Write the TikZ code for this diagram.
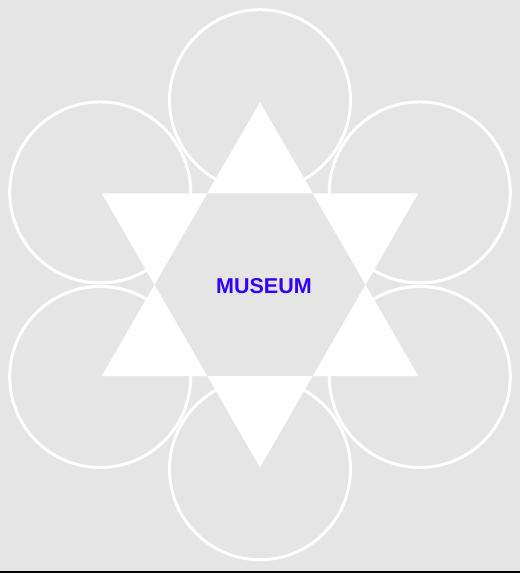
\documentclass[tikz,border=0pt]{standalone}
\usepackage{fontspec}
\usepackage{tikz}
\usepackage{xcolor}
\newfontfamily\labelfont{Liberation Sans}
\definecolor{museum-gray}{RGB}{229,229,229}
\definecolor{museum-blue}{RGB}{51,0,255}

\begin{document}
\begin{tikzpicture}[x=1pt, y=1pt,
	ring/.style={circle, draw=white, line width=3pt, minimum size=181pt, inner sep=0pt}]
	\fill[museum-gray] (-260,-288.3) rectangle (260,284.7);
	\useasboundingbox (-260,-288.3) rectangle (260,284.7);
	\fill[black] (-260,-288.3) rectangle (260,-286);
	\node[ring] (top) at (90:184.5pt) {};
	\node[ring] (upleft) at (150:184.5pt) {};
	\node[ring] (downleft) at (210:184.5pt) {};
	\node[ring] (bottom) at (270:184.5pt) {};
	\node[ring] (downright) at (330:184.5pt) {};
	\node[ring] (upright) at (30:184.5pt) {};
	% star: the centre hexagon stays empty
	\fill[white, even odd rule]
	(90:182.7pt) -- (210:182.7pt) -- (330:182.7pt) -- cycle
	(30:182.7pt) -- (150:182.7pt) -- (270:182.7pt) -- cycle;
	\node[text=museum-blue, font=\labelfont\bfseries\fontsize{21.5}{24}\selectfont] (museum) at (4,-1) {MUSEUM};
\end{tikzpicture}
\end{document}
